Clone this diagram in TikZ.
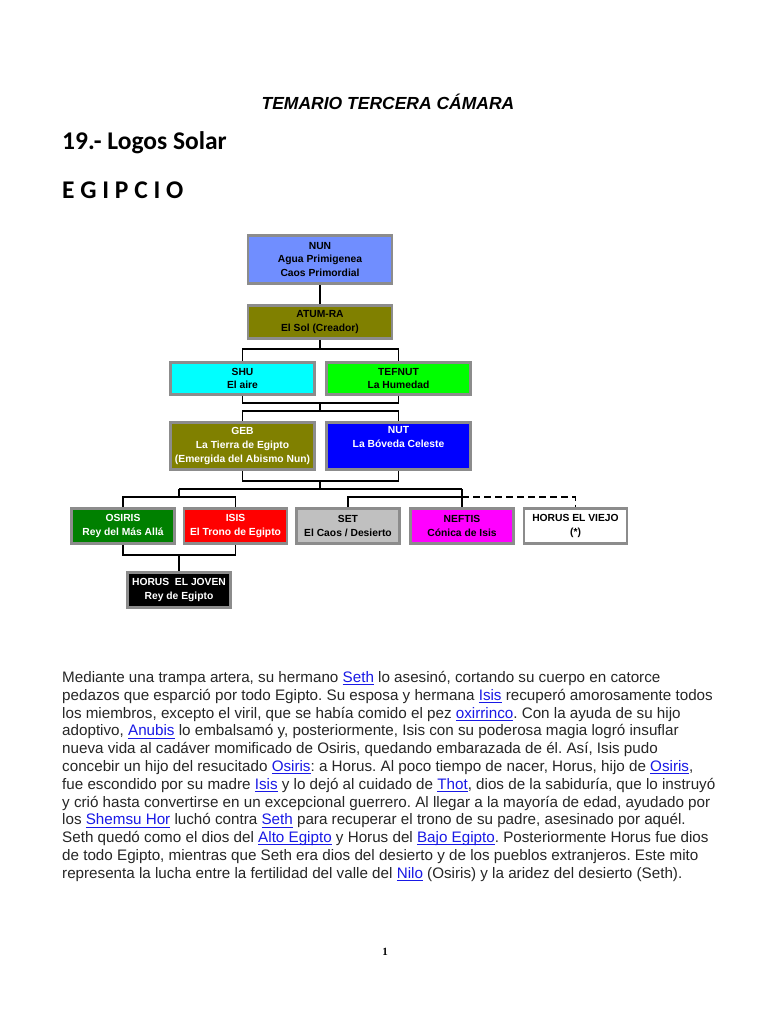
\documentclass[tikz,border=0pt]{standalone}
\usepackage{fontspec}
\setmainfont{Liberation Sans}
\newfontfamily\calib{Carlito}
\newfontfamily\numfont{Liberation Serif}
\definecolor{nunblue}{RGB}{112,142,255}
\definecolor{oliva}{RGB}{128,128,0}
\definecolor{osirisgreen}{RGB}{0,128,0}
\definecolor{setgray}{RGB}{192,192,192}
\definecolor{shucyan}{RGB}{0,255,255}
\definecolor{tefgreen}{RGB}{0,255,0}
\definecolor{nutblue}{RGB}{0,0,255}
\definecolor{isisred}{RGB}{255,0,0}
\definecolor{nefmagenta}{RGB}{255,0,255}
\definecolor{boxedge}{RGB}{140,140,140}
\definecolor{linkblue}{RGB}{25,25,230}
\newsavebox\lnkbox
\newcommand\lnk[1]{\sbox\lnkbox{\color{linkblue}#1}\textcolor{linkblue}{\rlap{\rule[-2.6pt]{\wd\lnkbox}{0.8pt}}}\usebox\lnkbox}
\frenchspacing
\begin{document}
\begin{tikzpicture}[x=1pt, y=-1pt,
  box/.style={draw=boxedge, line width=2.6pt, align=center, inner sep=0pt,
    font=\fontsize{10.3}{13.8}\selectfont\bfseries},
  wide/.style={box, minimum width=144pt},
  small/.style={box, minimum width=103pt, minimum height=35pt},
  link/.style={line width=1.6pt}
]
\fill[white] (0,0) rectangle (768,1024);
\useasboundingbox (0,0) rectangle (768,1024);
% headings
\node[font=\fontsize{17.5}{20}\selectfont\bfseries\itshape] (title) at (388,102) {TEMARIO TERCERA CÁMARA};
\node[anchor=base west, inner sep=0pt, font=\calib\fontsize{25.5}{28}\selectfont\bfseries] (logos) at (62,150) {19.- Logos Solar};
\node[anchor=base west, inner sep=0pt, font=\calib\fontsize{25.5}{28}\selectfont\bfseries] (egipcio) at (62,199) {E G I P C I O};
% genealogy
\node[wide, fill=nunblue, minimum height=48pt] (nun) at (320,259.5) {NUN\\Agua Primigenea\\Caos Primordial};
\node[wide, fill=oliva, minimum height=33pt] (atum) at (320,322) {ATUM-RA\\El Sol (Creador)};
\node[wide, fill=shucyan, minimum height=32pt] (shu) at (242.5,378.5) {SHU\\El aire};
\node[wide, fill=tefgreen, minimum height=32pt] (tefnut) at (398.5,378.5) {TEFNUT\\La Humedad};
\node[wide, fill=oliva, text=white, minimum height=47pt] (geb) at (242.5,446) {GEB\\La Tierra de Egipto\\(Emergida del Abismo Nun)};
\node[wide, fill=nutblue, text=white, minimum height=47pt] (nut) at (398.5,446) {NUT\\La Bóveda Celeste\\\strut};
\node[small, fill=osirisgreen, text=white] (osiris) at (123,526) {OSIRIS\\Rey del Más Allá};
\node[small, fill=isisred, text=white] (isis) at (235.5,526) {ISIS\\El Trono de Egipto};
\node[small, fill=setgray] (set) at (348,526) {SET\\El Caos / Desierto};
\node[small, fill=nefmagenta] (neftis) at (462,526) {NEFTIS\\Cónica de Isis};
\node[small, fill=white] (horusv) at (575.5,526) {HORUS EL VIEJO\\(*)};
\node[small, fill=black, text=white] (horusj) at (179,590) {HORUS~~EL JOVEN\\Rey de Egipto};
\coordinate (j1) at (320,349);
\coordinate (j2) at (320,403);
\coordinate (j3) at (320,411);
\coordinate (j4) at (320,481);
\coordinate (j5) at (320,489);
\coordinate (lft) at (179,489);
\coordinate (rgt) at (462,489);
\coordinate (osj) at (179,497);
\coordinate (stj) at (462,497);
\coordinate (hj) at (179,555);
\draw[link] (nun) -- (atum);
\draw[link] (atum) -- (j1);
\draw[link] (shu.north) |- (j1) -| (tefnut.north);
\draw[link] (shu.south) |- (j2) -| (tefnut.south);
\draw[link] (j2) -- (j3);
\draw[link] (geb.north) |- (j3) -| (nut.north);
\draw[link] (geb.south) |- (j4) -| (nut.south);
\draw[link] (j4) -- (j5);
\draw[link] (lft) -- (rgt);
\draw[link] (lft) -- (osj);
\draw[link] (osiris.north) |- (osj) -| (isis.north);
\draw[link] (rgt) -- (stj);
\draw[link] (set.north) |- (stj) -- (neftis.north);
\draw[link, dash pattern=on 7pt off 4pt] (stj) -| (horusv.north);
\draw[link] (osiris.south) |- (hj) -| (isis.south);
\draw[link] (hj) -- (horusj);
% text
\node[anchor=north west, inner sep=0pt, align=left, font=\fontsize{15.2}{17.8}\selectfont, text=black!85] (story) at (62,671) {%
Mediante una trampa artera, su hermano \lnk{Seth} lo asesinó, cortando su cuerpo en catorce\\
pedazos que esparció por todo Egipto. Su esposa y hermana \lnk{Isis} recuperó amorosamente todos\\
los miembros, excepto el viril, que se había comido el pez \lnk{oxirrinco}. Con la ayuda de su hijo\\
adoptivo, \lnk{Anubis} lo embalsamó y, posteriormente, Isis con su poderosa magia logró insuflar\\
nueva vida al cadáver momificado de Osiris, quedando embarazada de él. Así, Isis pudo\\
concebir un hijo del resucitado \lnk{Osiris}: a Horus. Al poco tiempo de nacer, Horus, hijo de \lnk{Osiris},\\
fue escondido por su madre \lnk{Isis} y lo dejó al cuidado de \lnk{Thot}, dios de la sabiduría, que lo instruyó\\
y crió hasta convertirse en un excepcional guerrero. Al llegar a la mayoría de edad, ayudado por\\
los \lnk{Shemsu Hor} luchó contra \lnk{Seth} para recuperar el trono de su padre, asesinado por aquél.\\
Seth quedó como el dios del \lnk{Alto Egipto} y Horus del \lnk{Bajo Egipto}. Posteriormente Horus fue dios\\
de todo Egipto, mientras que Seth era dios del desierto y de los pueblos extranjeros. Este mito\\
representa la lucha entre la fertilidad del valle del \lnk{Nilo} (Osiris) y la aridez del desierto (Seth).};
\node[font=\numfont\fontsize{11}{13}\selectfont\bfseries] (pagenum) at (385,952) {1};
\end{tikzpicture}
\end{document}
